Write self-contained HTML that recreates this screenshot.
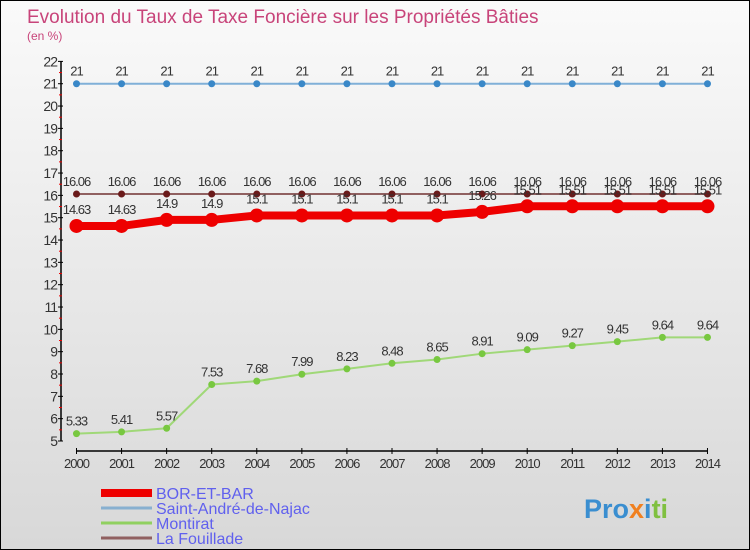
<!DOCTYPE html>
<html><head><meta charset="utf-8"><style>
body{margin:0;}
#c{width:748px;height:548px;border:1px solid #000;background:linear-gradient(#fafafa,#d8d8d8);position:relative;overflow:hidden;font-family:"Liberation Sans",sans-serif;}
</style></head><body>
<div id="c">
<svg id="s" width="748" height="548" xmlns="http://www.w3.org/2000/svg" font-family="Liberation Sans, sans-serif">
<text x="26" y="22" font-size="19" fill="#c8447a">Evolution du Taux de Taxe Foncière sur les Propriétés Bâties</text>
<text x="26" y="39" font-size="12" fill="#c8447a">(en %)</text>
<g id="axes"></g><g id="series"></g>
<g>
<line x1="100" y1="492" x2="151" y2="492" stroke="#e00" stroke-width="8"/>
<text x="155" y="498" font-size="16" fill="#6060ee">BOR-ET-BAR</text>
<line x1="100" y1="507" x2="151" y2="507" stroke="#88b0d0" stroke-width="3"/>
<text x="155" y="513" font-size="16" fill="#6060ee">Saint-André-de-Najac</text>
<line x1="100" y1="522" x2="151" y2="522" stroke="#90d060" stroke-width="3"/>
<text x="155" y="528" font-size="16" fill="#6060ee">Montirat</text>
<line x1="100" y1="537" x2="151" y2="537" stroke="#906060" stroke-width="3"/>
<text x="155" y="543" font-size="16" fill="#6060ee">La Fouillade</text>
</g>
<text x="583" y="517" font-size="27" font-weight="bold" fill="#3a8ed0">Pro<tspan fill="#f08020">x</tspan>i<tspan fill="#80c040">ti</tspan></text>
</svg>
</div>
<script>
const years=[2000,2001,2002,2003,2004,2005,2006,2007,2008,2009,2010,2011,2012,2013,2014];
const borEtBar=[14.63,14.63,14.9,14.9,15.1,15.1,15.1,15.1,15.1,15.26,15.51,15.51,15.51,15.51,15.51];
const saintAndre=[21,21,21,21,21,21,21,21,21,21,21,21,21,21,21];
const montirat=[5.33,5.41,5.57,7.53,7.68,7.99,8.23,8.48,8.65,8.91,9.09,9.27,9.45,9.64,9.64];
const laFouillade=[16.06,16.06,16.06,16.06,16.06,16.06,16.06,16.06,16.06,16.06,16.06,16.06,16.06,16.06,16.06];
const yTicks=[5,6,7,8,9,10,11,12,13,14,15,16,17,18,19,20,21,22];
const NS="http://www.w3.org/2000/svg";
const x=i=>75.5+i*45.07;
const y=v=>440-(v-5)*22.33;
function mk(t,a,p){const e=document.createElementNS(NS,t);for(const k in a)e.setAttribute(k,a[k]);p.appendChild(e);return e;}
const ax=document.getElementById('axes');
const yAxis=mk('line',{x1:60,y1:y(22),x2:60,y2:y(5),stroke:'#000','stroke-width':1.5},ax);


yTicks.forEach(v=>{
  mk('line',{x1:57,x2:62,y1:y(v),y2:y(v),stroke:'#000'},ax);
  if(v<22)mk('line',{x1:58,x2:61,y1:y(v+0.5),y2:y(v+0.5),stroke:'#e00'},ax);
  const t=mk('text',{x:56,y:y(v)+5,'text-anchor':'end','font-size':14,fill:'#333','letter-spacing':'-1'},ax);
  t.textContent=v;
  
  
});
const xAxis=mk('line',{x1:x(0),y1:450,x2:x(14),y2:450,stroke:'#000','stroke-width':1.5},ax);


years.forEach((yr,i)=>{
  mk('line',{x1:x(i),x2:x(i),y1:447,y2:453,stroke:'#000'},ax);
  const t=mk('text',{x:x(i),y:467,'text-anchor':'middle','font-size':13,fill:'#333','letter-spacing':'-1'},ax);
  t.textContent=yr;
  
  
});
const sg=document.getElementById('series');
function series(vals,name,color,lw,r,dot,labOff){
  const g=mk('g',{},sg);
  
  
  mk('polyline',{points:vals.map((v,i)=>x(i)+','+y(v)).join(' '),fill:'none',stroke:color,'stroke-width':lw},g);
  vals.forEach((v,i)=>{
    const c=mk('circle',{cx:x(i),cy:y(v),r:r,fill:dot},g);
    
    
    const t=mk('text',{x:x(i),y:y(v)-labOff,'text-anchor':'middle','font-size':13,fill:'#333','letter-spacing':'-1'},g);
    t.textContent=v;
  });
}
series(saintAndre,'saint-andre','#80b0d8',2,3.5,'#3a88c8',8);
series(laFouillade,'la-fouillade','#906060',2,3.5,'#6a1a1a',8);
series(montirat,'montirat','#a0d878',2,3.5,'#78c840',8);
series(borEtBar,'bor-et-bar','#ee0000',8,7,'#ee0000',12);
</script>
</body></html>
